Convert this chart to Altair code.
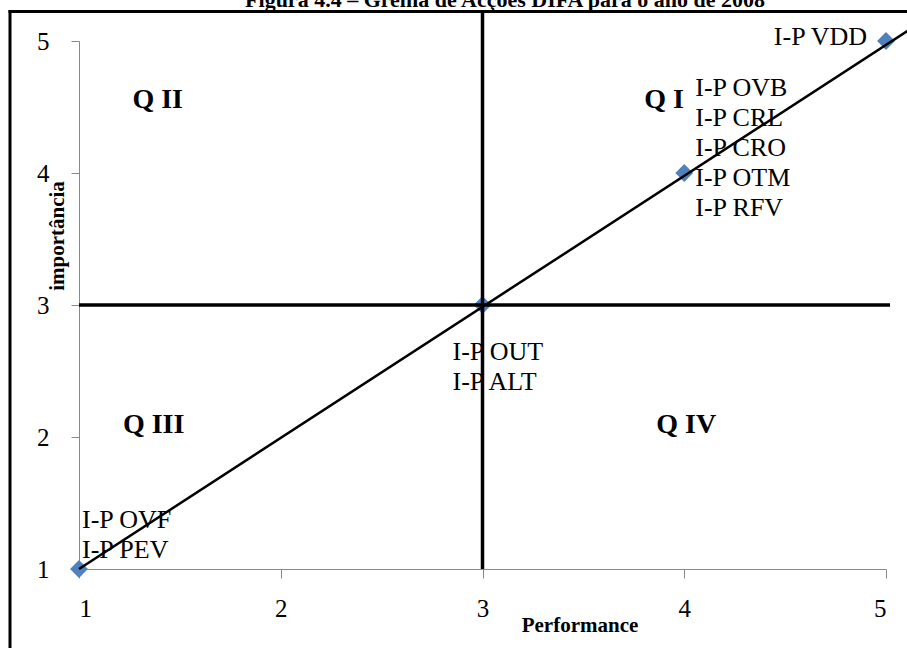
import altair as alt
import pandas as pd

# Grid points: performance (x) vs importance (y)
performance = [1, 3, 4, 5]
importance = [1, 3, 4, 5]
point_labels = [
    ["I-P OVF", "I-P PEV"],
    ["I-P OUT", "I-P ALT"],
    ["I-P OVB", "I-P CRL", "I-P CRO", "I-P OTM", "I-P RFV"],
    ["I-P VDD"],
]
axis_ticks = [1, 2, 3, 4, 5]

# Quadrant names and where they sit in data space
quadrant_names = ["Q I", "Q II", "Q III", "Q IV"]
quadrant_x = [3.9, 1.39, 1.37, 4.01]
quadrant_y = [4.55, 4.55, 2.09, 2.09]

# Quadrant split lines and the diagonal reference line
split = 3
split_v_top = 5.22
split_h_right = 5.02
diag_x = [1, 5.11]
diag_y = [1, 5.08]

SERIF = "Liberation Serif"
GREY = "#898989"
BLUE = "#4F81BD"

x_scale = alt.Scale(domain=[1, 5], nice=False, zero=False)
y_scale = alt.Scale(domain=[1, 5], nice=False, zero=False)

x_axis = alt.Axis(values=axis_ticks, format="d", grid=False, title=None,
                  domainColor=GREY, tickColor=GREY, tickSize=9,
                  labelFont=SERIF, labelFontSize=25, labelColor="black",
                  labelPadding=18)
y_axis = alt.Axis(values=axis_ticks, format="d", grid=False, title=None,
                  domainColor=GREY, tickColor=GREY, tickSize=8,
                  labelFont=SERIF, labelFontSize=25, labelColor="black",
                  labelPadding=22)

pts = pd.DataFrame({
    "performance": performance,
    "importance": importance,
    "label": ["\n".join(lines) for lines in point_labels],
})

# Every layer shares the same scales and axes
X = alt.X("performance:Q", scale=x_scale, axis=x_axis)
Y = alt.Y("importance:Q", scale=y_scale, axis=y_axis)

points = alt.Chart(pts).mark_point(
    shape="diamond", filled=True, size=320, color=BLUE, opacity=1
).encode(x=X, y=Y)

# Label block placement per point: (performance, align, dx, dy of first line)
label_place = [(1, "left", 3, -49), (3, "left", -30, 47),
               (4, "left", 11, -85), (5, "right", -19, -4)]
label_layers = []
for p, align, dx, dy in label_place:
    label_layers.append(
        alt.Chart(pts).transform_filter(alt.datum.performance == p).mark_text(
            align=align, baseline="middle", dx=dx, dy=dy, lineBreak="\n",
            lineHeight=30, font=SERIF, fontSize=26, color="black"
        ).encode(x=X, y=Y, text="label:N")
    )

vline = alt.Chart(pd.DataFrame({"performance": [split], "importance": [1],
                                "top": [split_v_top]})).mark_rule(
    color="black", strokeWidth=3.5
).encode(x=X, y=Y, y2="top:Q")

hline = alt.Chart(pd.DataFrame({"importance": [split], "performance": [1],
                                "right": [split_h_right]})).mark_rule(
    color="black", strokeWidth=3.5
).encode(y=Y, x=X, x2="right:Q")

diagonal = alt.Chart(pd.DataFrame({"performance": diag_x,
                                   "importance": diag_y})).mark_line(
    color="black", strokeWidth=2.5
).encode(x=X, y=Y)

quadrants = alt.Chart(pd.DataFrame({"performance": quadrant_x,
                                    "importance": quadrant_y,
                                    "name": quadrant_names})).mark_text(
    font=SERIF, fontSize=28, fontWeight="bold", color="black",
    align="center", baseline="middle"
).encode(x=X, y=Y, text="name:N")

one = pd.DataFrame({"k": [0]})

title = alt.Chart(one).mark_text(
    font=SERIF, fontSize=22, fontWeight="bold", color="black",
    align="center", baseline="alphabetic"
).encode(x=alt.value(426), y=alt.value(-34),
         text=alt.value("Figura 4.4 – Grelha de Acções DIFA para o ano de 2008"))

x_title = alt.Chart(one).mark_text(
    font=SERIF, fontSize=21, fontWeight="bold", color="black",
    align="center", baseline="alphabetic"
).encode(x=alt.value(501), y=alt.value(591), text=alt.value("Performance"))

y_title = alt.Chart(one).mark_text(
    font=SERIF, fontSize=21, fontWeight="bold", color="black",
    align="center", baseline="alphabetic", angle=270
).encode(x=alt.value(-15), y=alt.value(195), text=alt.value("importância"))

# Outer frame (top and left edges)
frame_top = alt.Chart(one).mark_rule(color="black", strokeWidth=3).encode(
    x=alt.value(-70.5), x2=alt.value(900), y=alt.value(-29.5))
frame_left = alt.Chart(one).mark_rule(color="black", strokeWidth=3).encode(
    x=alt.value(-69), y=alt.value(-31), y2=alt.value(700))

chart = alt.layer(
    *label_layers, points, vline, hline, diagonal, quadrants,
    title, x_title, y_title, frame_top, frame_left
).properties(
    width=807, height=528,
    padding={"left": 79, "top": 41, "right": 21, "bottom": 79},
    autosize=alt.AutoSizeParams(type="none"),
    background="white",
).configure_view(stroke=None)

chart.save("out.html", embed_options={"renderer": "svg", "actions": False})
